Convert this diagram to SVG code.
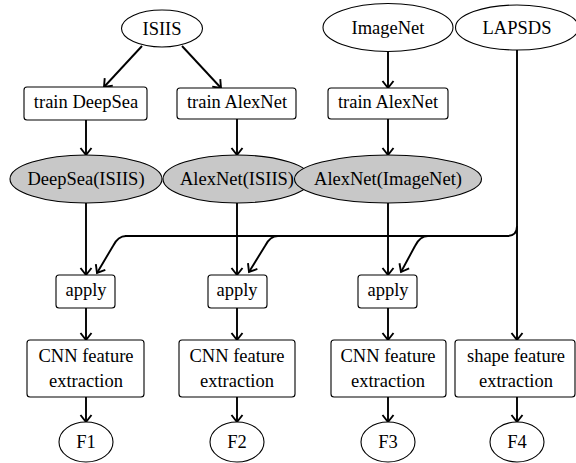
<svg xmlns="http://www.w3.org/2000/svg" width="576" height="463" viewBox="0 0 576 463">
  <style>
    text { font-family: "Liberation Serif", "Times New Roman", serif; font-size: 18.5px; fill: #000; text-anchor: middle; }
    .box { fill: #fff; stroke: #000; stroke-width: 1.1; }
    .data { fill: #fff; stroke: #000; stroke-width: 1.1; }
    .model { fill: #c8c8c8; stroke: #000; stroke-width: 1.1; }
    .edge { fill: none; stroke: #000; stroke-width: 1.9; marker-end: url(#arrow); }
    .plain { fill: none; stroke: #000; stroke-width: 1.9; }
  </style>
  <defs>
    <marker id="arrow" markerUnits="userSpaceOnUse" markerWidth="16" markerHeight="16" viewBox="-9 -8 10 16" refX="0" refY="0" orient="auto">
      <path d="M-7,-5.5 L0,0 L-7,5.5" fill="none" stroke="#000" stroke-width="1.9" stroke-linejoin="miter"/>
    </marker>
  </defs>
  <rect width="576" height="463" fill="#fff"/>

  <!-- connectors -->
  <g id="connectors">
    <line class="edge" x1="142" y1="46" x2="104" y2="87"/>
    <line class="edge" x1="182" y1="46" x2="221" y2="88"/>
    <line class="edge" x1="388" y1="52" x2="388" y2="88"/>
    <line class="edge" x1="86" y1="120" x2="86" y2="155"/>
    <line class="edge" x1="237" y1="119" x2="237" y2="155"/>
    <line class="edge" x1="388" y1="119" x2="388" y2="155"/>
    <line class="edge" x1="86" y1="203" x2="86" y2="275"/>
    <line class="edge" x1="237" y1="203" x2="237" y2="275"/>
    <line class="edge" x1="388" y1="203" x2="388" y2="275"/>
    <!-- LAPSDS trunk down to shape feature extraction -->
    <line class="edge" x1="517" y1="50" x2="517" y2="340"/>
    <!-- shared bus feeding the apply steps -->
    <path class="plain" d="M517,226 Q517,236 507,236 L125,236"/>
    <path class="edge" d="M126,236 Q118,236 113,246 L97,273"/>
    <path class="edge" d="M278,236 Q270,236 265,246 L249,272"/>
    <path class="edge" d="M428,236 Q420,236 415,246 L401,272"/>
    <line class="edge" x1="86" y1="308" x2="86" y2="340"/>
    <line class="edge" x1="237" y1="308" x2="237" y2="340"/>
    <line class="edge" x1="388" y1="308" x2="388" y2="340"/>
    <line class="edge" x1="86" y1="397" x2="86" y2="422"/>
    <line class="edge" x1="237" y1="397" x2="237" y2="422"/>
    <line class="edge" x1="388" y1="397" x2="388" y2="422"/>
    <line class="edge" x1="517" y1="397" x2="517" y2="422"/>
  </g>

  <!-- sources -->
  <g id="isiis"><ellipse class="data" cx="162" cy="28.5" rx="40.5" ry="18.5"/><text x="162" y="34.5">ISIIS</text></g>
  <g id="imagenet"><ellipse class="data" cx="388" cy="27.5" rx="65" ry="24"/><text x="388" y="34">ImageNet</text></g>
  <g id="lapsds"><ellipse class="data" cx="517" cy="27.5" rx="61.5" ry="22.5"/><text x="517" y="34">LAPSDS</text></g>

  <!-- training steps -->
  <g id="train-deepsea"><rect class="box" x="24" y="87" width="123" height="33" rx="3"/><text x="86" y="108">train DeepSea</text></g>
  <g id="train-alexnet-isiis"><rect class="box" x="177" y="88" width="119" height="31" rx="3"/><text x="237" y="108">train AlexNet</text></g>
  <g id="train-alexnet-imagenet"><rect class="box" x="328" y="88" width="120" height="31" rx="3"/><text x="388" y="108">train AlexNet</text></g>

  <!-- trained models -->
  <g id="deepsea-isiis"><ellipse class="model" cx="86" cy="179" rx="76" ry="24"/><text x="86" y="185">DeepSea(ISIIS)</text></g>
  <g id="alexnet-isiis"><ellipse class="model" cx="237" cy="179" rx="74" ry="24"/><text x="237" y="185">AlexNet(ISIIS)</text></g>
  <g id="alexnet-imagenet"><ellipse class="model" cx="388" cy="179" rx="93.5" ry="24"/><text x="388" y="185">AlexNet(ImageNet)</text></g>

  <!-- apply steps -->
  <g id="apply-1"><rect class="box" x="56" y="275" width="59" height="33" rx="3"/><text x="86" y="296">apply</text></g>
  <g id="apply-2"><rect class="box" x="208" y="275" width="59" height="33" rx="3"/><text x="237" y="296">apply</text></g>
  <g id="apply-3"><rect class="box" x="358" y="275" width="59" height="33" rx="3"/><text x="388" y="296">apply</text></g>

  <!-- feature extraction -->
  <g id="cnn-1"><rect class="box" x="27" y="340" width="117" height="57" rx="3"/><text x="86" y="362">CNN feature</text><text x="86" y="387">extraction</text></g>
  <g id="cnn-2"><rect class="box" x="179" y="340" width="116" height="57" rx="3"/><text x="237" y="362">CNN feature</text><text x="237" y="387">extraction</text></g>
  <g id="cnn-3"><rect class="box" x="331" y="340" width="115" height="57" rx="3"/><text x="388" y="362">CNN feature</text><text x="388" y="387">extraction</text></g>
  <g id="shape"><rect class="box" x="455" y="340" width="120" height="57" rx="3"/><text x="516" y="362">shape feature</text><text x="516" y="387">extraction</text></g>

  <!-- feature outputs -->
  <g id="f1"><ellipse class="data" cx="86" cy="442" rx="27" ry="20"/><text x="86" y="448">F1</text></g>
  <g id="f2"><ellipse class="data" cx="237" cy="442" rx="27" ry="20"/><text x="237" y="448">F2</text></g>
  <g id="f3"><ellipse class="data" cx="388" cy="442" rx="27" ry="20"/><text x="388" y="448">F3</text></g>
  <g id="f4"><ellipse class="data" cx="517" cy="442" rx="27" ry="20"/><text x="517" y="448">F4</text></g>
</svg>
